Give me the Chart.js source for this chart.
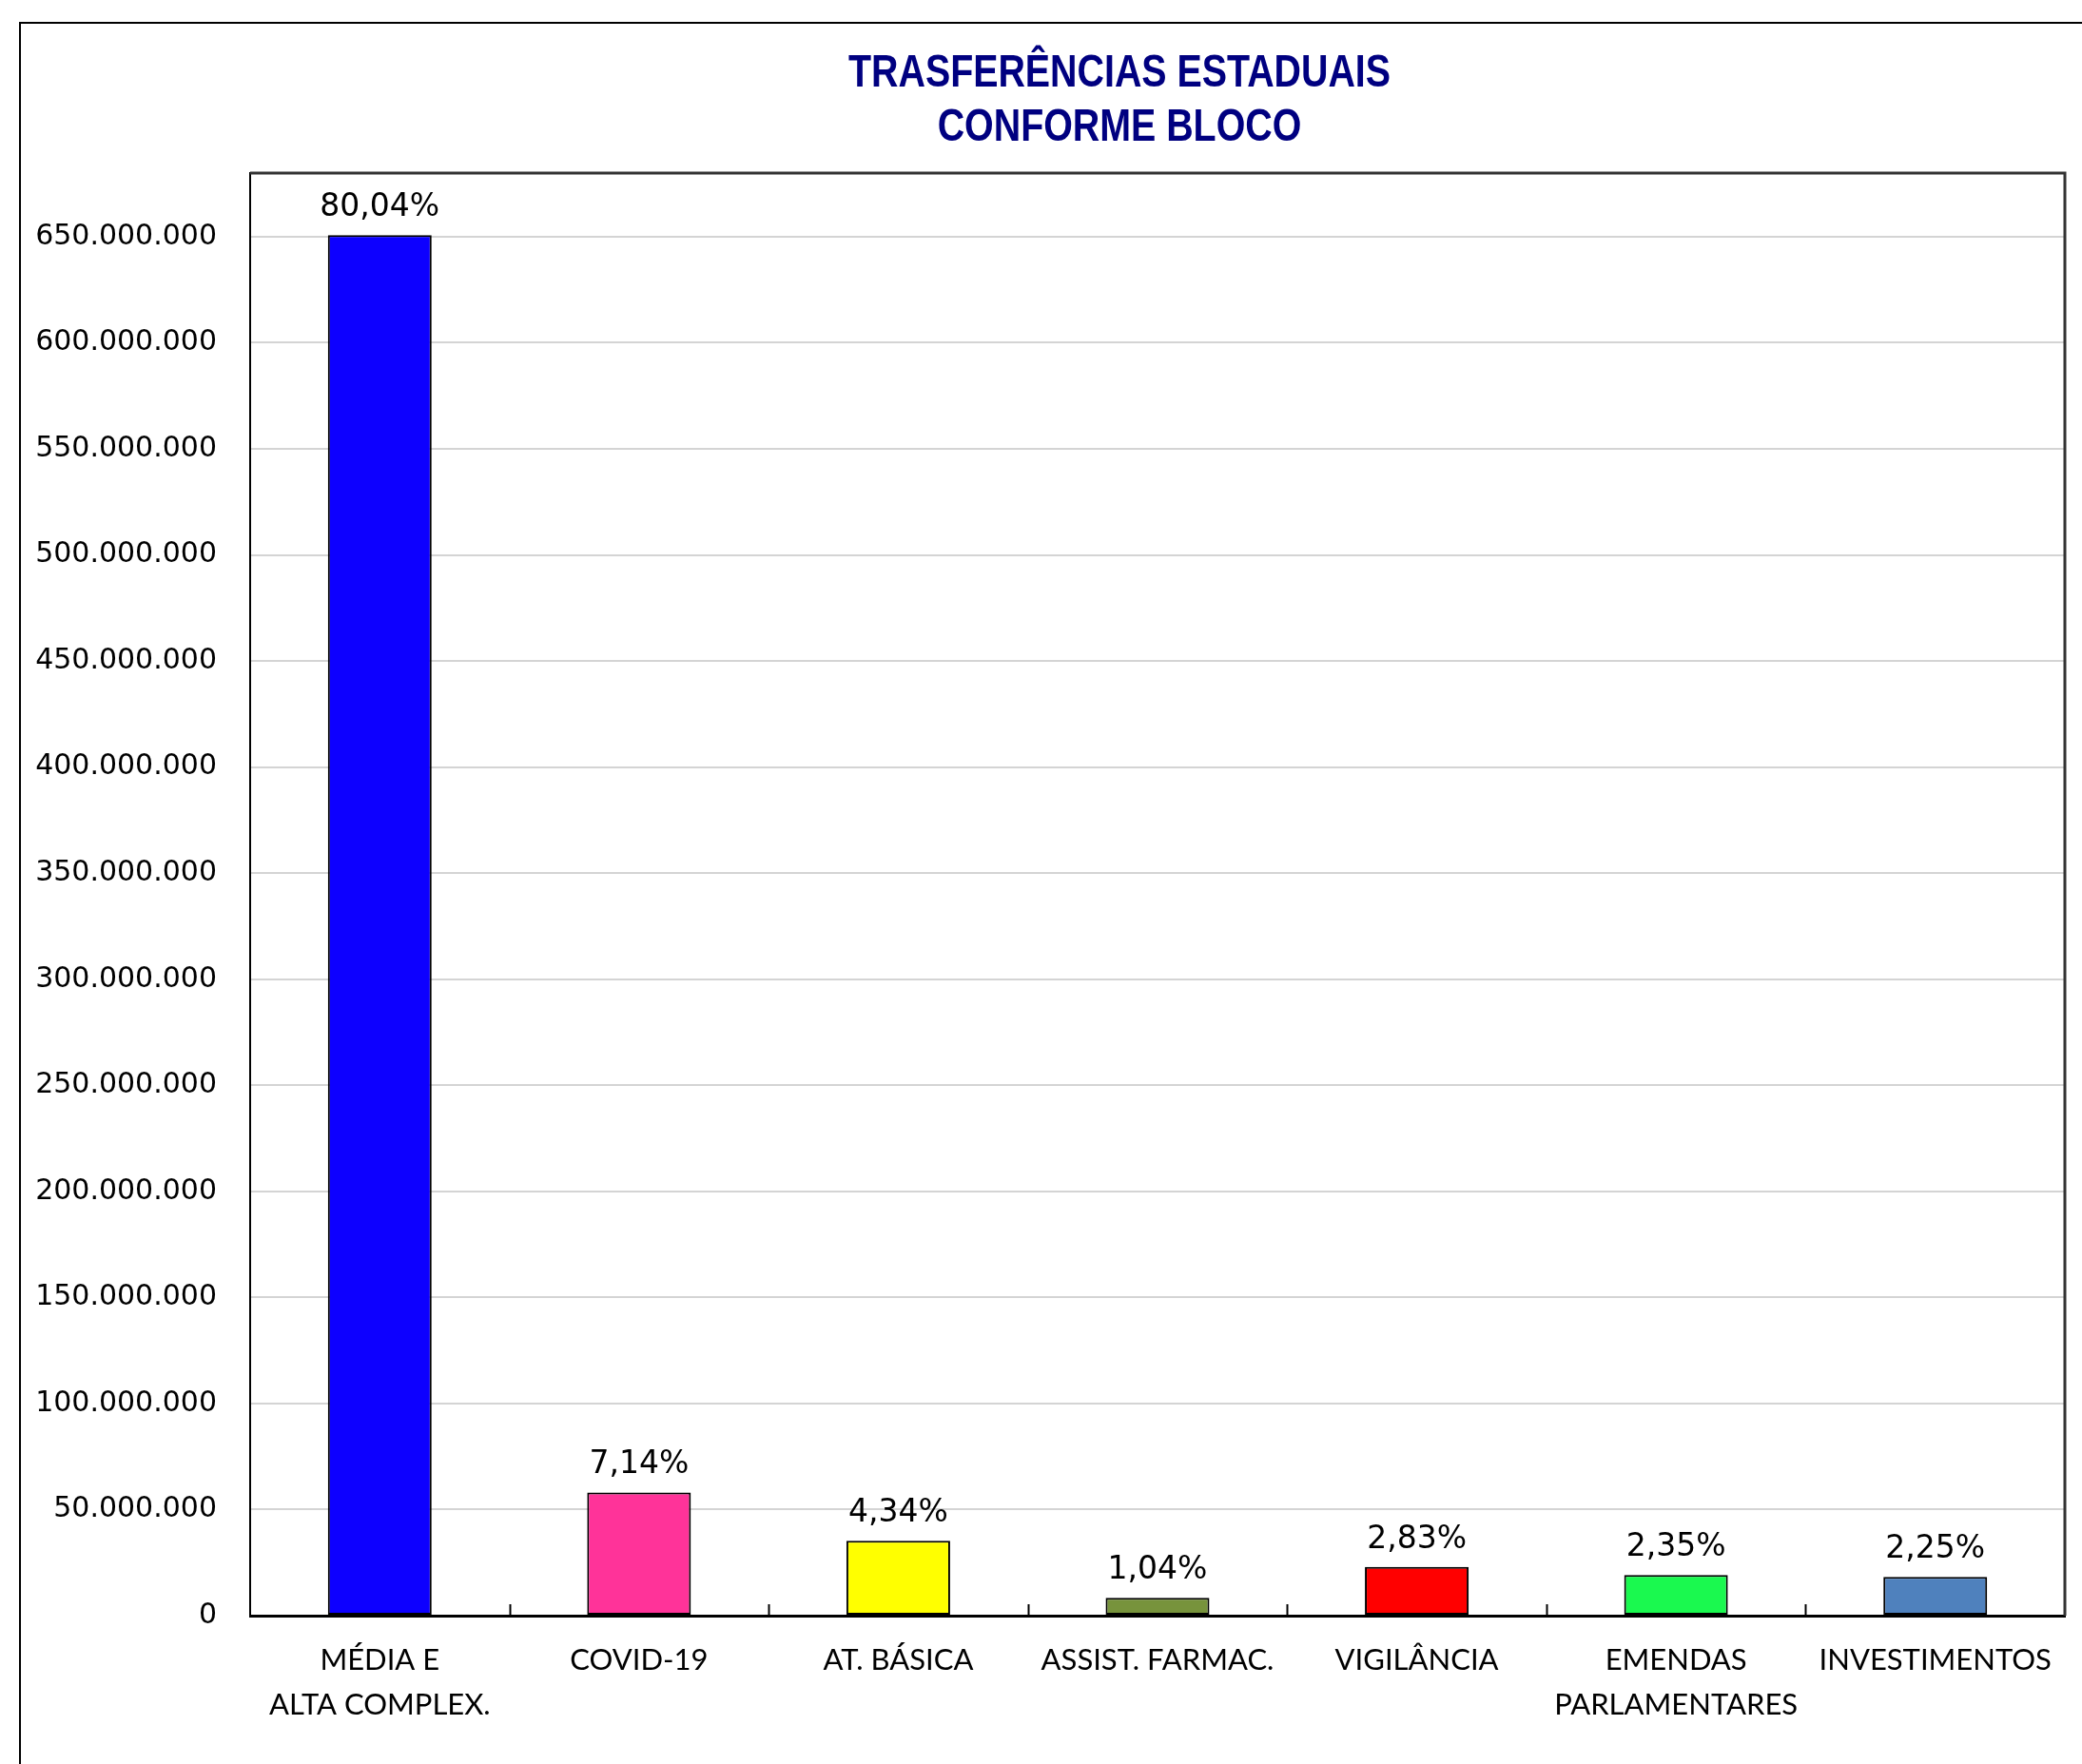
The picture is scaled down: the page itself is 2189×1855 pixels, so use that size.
<!DOCTYPE html>
<html>
<head>
<meta charset="utf-8">
<script src="https://cdn.jsdelivr.net/npm/chart.js"></script>
<style>
  html, body { margin: 0; padding: 0; background: #fff; }
  #wrap { width: 2189px; height: 1855px; }
</style>
</head>
<body>
<div id="wrap"><canvas id="barChart" width="2189" height="1855"></canvas></div>
<script>
// data
const categories = [
  ["MÉDIA E", "ALTA COMPLEX."],
  "COVID-19",
  "AT. BÁSICA",
  "ASSIST. FARMAC.",
  "VIGILÂNCIA",
  ["EMENDAS", "PARLAMENTARES"],
  "INVESTIMENTOS"
];
const values = [650700000, 58050000, 35290000, 8460000, 23010000, 19110000, 18290000];
const percentLabels = ["80,04%", "7,14%", "4,34%", "1,04%", "2,83%", "2,35%", "2,25%"];
const barColors = ["#0D00FF", "#FF3399", "#FFFF00", "#77933C", "#FF0000", "#1AF94F", "#4F81BD"];
const yTicks = [
  0, 50000000, 100000000, 150000000, 200000000, 250000000, 300000000,
  350000000, 400000000, 450000000, 500000000, 550000000, 600000000, 650000000
];
const titleLines = ["TRASFERÊNCIAS ESTADUAIS", "CONFORME BLOCO"];

// 650000000 -> "650.000.000"
const fmt = (v) => String(Math.round(v)).replace(/\B(?=(\d{3})+(?!\d))/g, ".");

// title, outer frame, plot box, category ticks and value labels
const decor = {
  id: "decor",
  beforeDraw(chart) {
    const ctx = chart.ctx;
    ctx.save();
    ctx.fillStyle = "#fff";
    ctx.fillRect(0, 0, chart.width, chart.height);
    ctx.strokeStyle = "#000";
    ctx.lineWidth = 2;
    ctx.strokeRect(21, 24, 4000, 4000);
    ctx.restore();
  },
  afterDraw(chart) {
    const ctx = chart.ctx;
    const area = chart.chartArea;
    ctx.save();

    // plot area box top / right
    ctx.strokeStyle = "#333";
    ctx.lineWidth = 3;
    ctx.beginPath();
    ctx.moveTo(area.left, area.top);
    ctx.lineTo(area.right, area.top);
    ctx.lineTo(area.right, area.bottom);
    ctx.stroke();

    // category separators
    ctx.lineWidth = 2;
    ctx.strokeStyle = "#000";
    const step = (area.right - area.left) / categories.length;
    for (let i = 1; i < categories.length; i++) {
      const px = Math.round(area.left + step * i) + 0.5;
      ctx.beginPath();
      ctx.moveTo(px, area.bottom);
      ctx.lineTo(px, area.bottom - 12);
      ctx.stroke();
    }

    // value labels
    ctx.fillStyle = "#000";
    ctx.font = "33px 'DejaVu Sans'";
    ctx.textAlign = "center";
    ctx.textBaseline = "alphabetic";
    const meta = chart.getDatasetMeta(0);
    meta.data.forEach((bar, i) => {
      ctx.fillText(percentLabels[i], bar.x, bar.y - 20);
    });

    // title (condensed bold)
    ctx.fillStyle = "#000080";
    ctx.font = "bold 48px 'Liberation Sans'";
    ctx.textBaseline = "middle";
    ctx.translate(1177, 0);
    ctx.scale(0.82, 1);
    ctx.fillText(titleLines[0], 0, 78);
    ctx.fillText(titleLines[1], 0, 135);
    ctx.restore();
  }
};

const data = {
  labels: categories,
  datasets: [
    {
      data: values,
      backgroundColor: barColors,
      borderColor: "#000",
      borderWidth: 2,
      borderSkipped: false,
      barPercentage: 0.4,
      categoryPercentage: 1
    }
  ]
};

const config = {
  type: "bar",
  data: data,
  plugins: [decor],
  options: {
    responsive: false,
    animation: false,
    layout: { padding: { left: 0, top: 182, right: 18, bottom: 0 } },
    plugins: {
      legend: { display: false },
      tooltip: { enabled: false }
    },
    scales: {
      x: {
        grid: { display: false, drawTicks: false },
        border: { display: true, color: "#000", width: 3 },
        ticks: {
          color: "#000",
          font: { family: "Lato", size: 31, lineHeight: 1.5 },
          padding: 24,
          maxRotation: 0,
          autoSkip: false
        },
        afterFit: (scale) => { scale.height = 1855 - 1699; }
      },
      y: {
        min: 0,
        max: 680000000,
        grid: { color: "#D4D4D4", lineWidth: 2, drawTicks: false },
        border: { display: true, color: "#000", width: 2 },
        ticks: {
          autoSkip: false,
          color: "#000",
          font: { family: "DejaVu Sans", size: 30 },
          padding: 35,
          callback: (v) => fmt(v)
        },
        afterBuildTicks: (scale) => {
          scale.ticks = yTicks.map((v) => ({ value: v }));
        },
        afterFit: (scale) => { scale.width = 263; }
      }
    }
  }
};

const chart = new Chart(document.getElementById("barChart"), config);
</script>
</body>
</html>
